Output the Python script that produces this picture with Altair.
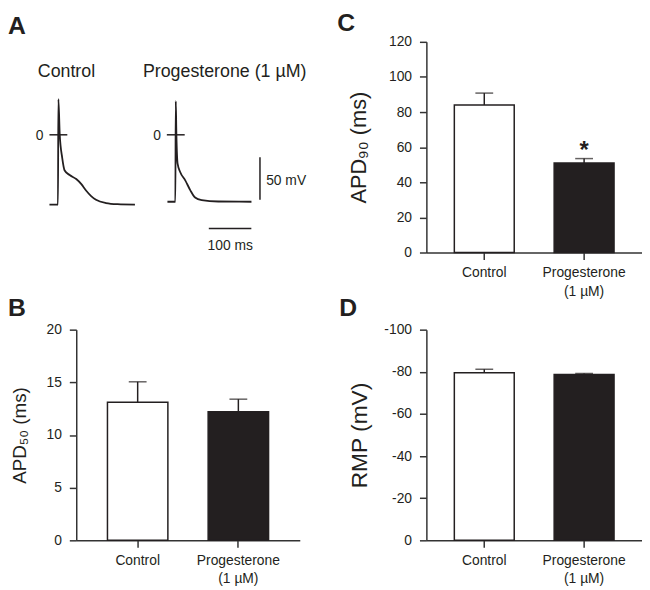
import altair as alt
import pandas as pd

FONT = "Liberation Sans"
INK = "#231f20"
AXC = "#333333"

# ---------------- data ----------------
groups = ["Control", "Progesterone\n(1 µM)"]
apd50_mean = [13.1, 12.2]
apd50_sem = [1.95, 1.2]
apd90_mean = [84.0, 51.0]
apd90_sem = [6.8, 2.5]
apd90_sig = ["", "*"]
rmp_mean = [-79.5, -78.7]
rmp_sem = [1.7, 0.5]

panel_letters = ["A", "B", "C", "D"]

trace_names = ["Control", "Progesterone (1 µM)"]
ctrl_t = [-20, 0, 1, 4.2, 10, 15.8, 27.5, 43, 55, 66, 78, 89.5, 113, 140, 181]
ctrl_v = [-82, -82, 42, 0, -27, -42, -47.3, -52, -58, -65.5, -72, -76.4, -80.2, -81.5, -82]
prog_t = [-18.6, 0, 1, 2.5, 5.3, 11.6, 23.3, 35, 46.5, 62, 101, 179]
prog_v = [-78.7, -78.7, 39.5, 0, -34, -44, -53.5, -65, -73.7, -76.7, -78.4, -78.7]

PROG_OFFSET = 276  # ms, horizontal placement of the second trace
W1, W2, H = 226, 218, 213
PX_PER_MV = 0.86

# ---------------- panel A (traces) ----------------
xs = alt.Scale(domain=[43, 568.6], nice=False, zero=False)
ys = alt.Scale(domain=[109.3 - H / PX_PER_MV, 109.3], nice=False, zero=False)

def XA(f):
    return alt.X(f, type="quantitative", scale=xs, axis=None)

def YA(f):
    return alt.Y(f, type="quantitative", scale=ys, axis=None)

tr_rows = []
for t, v in zip(ctrl_t, ctrl_v):
    tr_rows.append({"trace": trace_names[0], "x": t, "v": v})
for t, v in zip(prog_t, prog_v):
    tr_rows.append({"trace": trace_names[1], "x": t + PROG_OFFSET, "v": v})
tr_df = pd.DataFrame(tr_rows)

offsets = [0, PROG_OFFSET]
zero_df = pd.DataFrame({
    "x1": [-20 + o for o in offsets],
    "x2": [22 + o for o in offsets],
    "v": [0, 0],
    "lx": [-34 + o for o in offsets],
    "lv": [-5.8, -5.8],
    "lab": ["0", "0"],
})
title_df = pd.DataFrame({"name": trace_names, "x": [20, 392], "v": [68, 68]})
sbar_df = pd.DataFrame({
    "x1": [354.7, 475], "x2": [454.7, 475],
    "v1": [-110.1, -26.4], "v2": [-110.1, -76.4],
})
slab_df = pd.DataFrame({
    "lab": ["100 ms", "50 mV"], "x": [405, 489.5], "v": [-136, -59.3],
})

traces = alt.Chart(tr_df).mark_line(color=INK, strokeWidth=1.8, interpolate="monotone").encode(
    x=XA("x"), y=YA("v"), detail="trace:N")
zticks = alt.Chart(zero_df).mark_rule(color=INK, strokeWidth=1.5).encode(
    x=XA("x1"), x2="x2:Q", y=YA("v"))
zlabs = alt.Chart(zero_df).mark_text(font=FONT, fontSize=14, color=INK, align="right",
                                      baseline="alphabetic").encode(
    x=XA("lx"), y=YA("lv"), text="lab:N")
titles = alt.Chart(title_df).mark_text(font=FONT, fontSize=18, color=INK, align="center",
                                        baseline="alphabetic").encode(
    x=XA("x"), y=YA("v"), text="name:N")
sbars = alt.Chart(sbar_df).mark_rule(color=INK, strokeWidth=1.5).encode(
    x=XA("x1"), x2="x2:Q", y=YA("v1"), y2="v2:Q")
slab_c = alt.Chart(slab_df.iloc[[0]]).mark_text(font=FONT, fontSize=14, color=INK, align="center",
                                               baseline="alphabetic").encode(
    x=XA("x"), y=YA("v"), text="lab:N")
slab_l = alt.Chart(slab_df.iloc[[1]]).mark_text(font=FONT, fontSize=14, color=INK, align="left",
                                               baseline="alphabetic").encode(
    x=XA("x"), y=YA("v"), text="lab:N")


def letter_layer(letter, lx, ly):
    return alt.Chart(pd.DataFrame({"t": [letter]})).mark_text(
        font=FONT, fontSize=25, fontWeight="bold", align="left", baseline="alphabetic", color=INK
    ).encode(text="t:N", x=alt.value(lx), y=alt.value(ly))


panelA = alt.layer(traces, zticks, zlabs, titles, sbars, slab_c, slab_l,
                   letter_layer(panel_letters[0], -69, -8)).properties(width=W1, height=H)


# ---------------- bar panels ----------------
def bar_panel(letter, means, uppers, ytitle, tsize, tx, domain, ticks, width, po,
              lx, ly, label_expr=None, sig=None):
    df = pd.DataFrame({"group": groups, "mean": means, "upper": uppers})
    if sig is not None:
        df["sig"] = sig
    xax = alt.Axis(title=None, labelAngle=0, labelAlign="center", labelBaseline="top",
                   labelExpr="split(datum.label, '\\n')", labelFontSize=14, labelFont=FONT,
                   labelLineHeight=19, labelPadding=6, labelOverlap=False)
    yax = dict(values=ticks, title=ytitle, titleFontSize=tsize, titleX=tx, titleY=H / 2,
               titleAngle=270, titleAlign="center", titleBaseline="middle",
               titleFontWeight="normal", titleFont=FONT, titleColor=INK, labelPadding=8,
               labelFontSize=14, labelFont=FONT, labelOverlap=False)
    if label_expr:
        yax["labelExpr"] = label_expr
    yscale = alt.Scale(domain=domain, nice=False, zero=False)

    def xenc():
        return alt.X("group:N", sort=groups,
                     scale=alt.Scale(paddingInner=0.4, paddingOuter=po), axis=xax)

    def yenc(field):
        return alt.Y(field, type="quantitative", scale=yscale, axis=alt.Axis(**yax))

    base = alt.Chart(df)
    bars = base.mark_bar(stroke=INK, strokeWidth=1.5).encode(
        x=xenc(), y=yenc("mean"), y2=alt.datum(0),
        fill=alt.Fill("group:N", scale=alt.Scale(domain=groups, range=["white", INK]), legend=None),
    )
    err = base.mark_rule(color=INK, strokeWidth=1.5).encode(
        x=xenc(), y=yenc("mean"), y2="upper:Q")
    cap = base.mark_tick(color=INK, thickness=1.5, size=18).encode(
        x=xenc(), y=yenc("upper"))
    layers = [err, bars, cap]
    if sig is not None:
        star = base.mark_text(font=FONT, fontSize=24, fontWeight="bold", color=INK,
                              baseline="alphabetic", dy=-1).encode(
            x=xenc(), y=yenc("upper"), text="sig:N")
        layers.append(star)
    layers.append(letter_layer(letter, lx, ly))
    return alt.layer(*layers).properties(width=width, height=H)


panelB = bar_panel(panel_letters[1], apd50_mean, [m + e for m, e in zip(apd50_mean, apd50_sem)],
                   "APD₅₀ (ms)", 19, -57, [0, 20], [0, 5, 10, 15, 20], W1, 0.31, -69, -14)
panelC = bar_panel(panel_letters[2], apd90_mean, [m + e for m, e in zip(apd90_mean, apd90_sem)],
                   "APD₉₀ (ms)", 22, -69, [0, 120], [0, 20, 40, 60, 80, 100, 120], W2, 0.28,
                   -90, -10.5, sig=apd90_sig)
panelD = bar_panel(panel_letters[3], rmp_mean, [m - e for m, e in zip(rmp_mean, rmp_sem)],
                   "RMP (mV)", 23, -68, [0, -100], [0, -20, -40, -60, -80, -100], W2, 0.28,
                   -88, -14, label_expr="'' + datum.value")

chart = alt.concat(panelA, panelC, panelB, panelD, columns=2,
                   spacing={"row": 78, "column": 128}, bounds="flush").configure(
    padding=0, font=FONT
).configure_view(stroke=None).configure_axis(
    grid=False, domainColor=AXC, domainWidth=1.5, tickColor=AXC, tickWidth=1.5, tickSize=7,
    labelFont=FONT, labelFontSize=14, labelColor=INK, titleFont=FONT, titleColor=INK,
)

chart.save("out.html", embed_options={"renderer": "svg", "actions": False})
